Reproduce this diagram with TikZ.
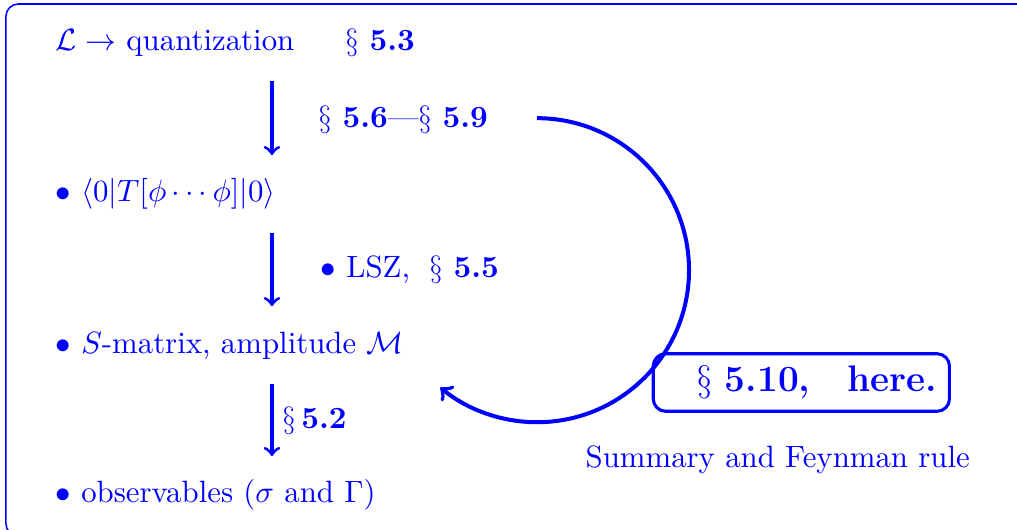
\documentclass[tikz,border=0pt]{standalone}
\usetikzlibrary{calc}

\begin{document}
\begin{tikzpicture}[blue,
  entry/.style={anchor=base west, inner sep=0pt, text height=8pt, text depth=3pt},
  tag/.style={anchor=base west, inner sep=0pt},
  flow/.style={->, line width=1pt, shorten <=7pt, shorten >=7pt}]
\useasboundingbox (0,0) rectangle (11.6,6.034);
\draw[line width=0.5pt, rounded corners=4pt] (0.068,5.988) rectangle (12,-0.08);
\node[entry] (lag) at (0.627,5.463) {$\mathcal{L}\rightarrow$ quantization \quad\ $\S$~\textbf{5.3}};
\node[entry] (vev) at (0.627,3.730) {$\bullet$ $\langle 0|T[\phi\cdots\phi]|0\rangle$};
\node[entry] (smat) at (0.627,2.007) {$\bullet$ $S$-matrix, amplitude $\mathcal{M}$};
\node[entry] (obs) at (0.627,0.297) {$\bullet$ observables ($\sigma$ and $\Gamma$)};
\coordinate (ax) at (3.102,0);
\draw[flow] (lag.south -| ax) -- (vev.north -| ax);
\draw[flow] (vev.south -| ax) -- (smat.north -| ax);
\draw[flow] (smat.south -| ax) -- (obs.north -| ax);
\node[tag] (s69) at (3.627,4.585) {$\S$~\textbf{5.6}---$\S$~\textbf{5.9}};
\node[tag] (lsz) at (3.650,2.863) {$\bullet$ LSZ, \hspace{3pt}$\S$~\textbf{5.5}};
\node[tag] (s52) at (3.216,1.141) {$\S$\,\textbf{5.2}};
\coordinate (top) at (6.125,4.686);
\draw[->, line width=1.3pt] (top) arc[start angle=90, end angle=-129.5, radius=1.734];
\node[draw, line width=1pt, rounded corners=4pt, font=\large, inner sep=4pt, anchor=east] (here) at (10.847,1.671) {\hspace{10pt}$\S$~\textbf{5.10,}\quad\textbf{here.}};
\node[tag] (sum) at (6.673,0.707) {Summary and Feynman rule};
\end{tikzpicture}
\end{document}
